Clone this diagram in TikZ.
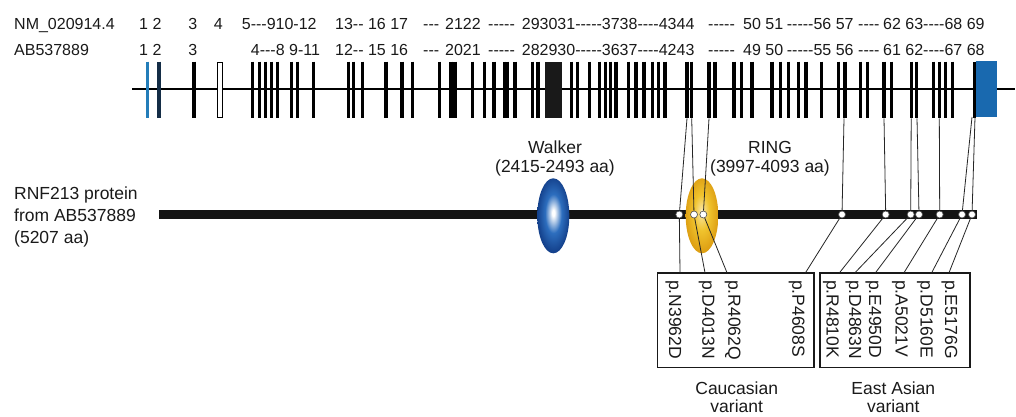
\documentclass[tikz,border=0pt]{standalone}
\usepackage{fontspec}
\setmainfont{Liberation Sans}
\newfontfamily\rawfont{Liberation Sans}
\definecolor{ink}{RGB}{26,26,26}
\definecolor{exblue}{RGB}{35,125,185}
\definecolor{exdark}{RGB}{20,45,70}
\definecolor{blockblue}{RGB}{25,105,175}
\definecolor{wb1}{RGB}{45,110,190}
\definecolor{wb2}{RGB}{20,65,140}
\definecolor{ry1}{RGB}{240,195,45}
\definecolor{ry2}{RGB}{222,160,20}
\pgfdeclareradialshading{walkerball}{\pgfpoint{0bp}{2bp}}{color(0bp)=(white); color(2bp)=(white); color(13bp)=(wb1); color(25bp)=(wb2); color(50bp)=(wb2)}
\pgfdeclareradialshading{ringball}{\pgfpoint{-1bp}{3bp}}{color(0bp)=(white); color(2bp)=(white!50!ry1); color(12bp)=(ry1); color(25bp)=(ry2); color(50bp)=(ry2)}
\begin{document}
\begin{tikzpicture}[x=1pt,y=-1pt,
  txt/.style={font=\rawfont\fontsize{16}{19}\selectfont, inner sep=0pt, text=ink},
  lbl/.style={font=\fontsize{17.5}{22}\selectfont, inner sep=0pt, text=ink},
  vlabel/.style={lbl, rotate=-90, anchor=west},
  exon/.style={line width=3.3pt, draw=black},
  conn/.style={draw=black!85, line width=0.8pt},
  dot/.style={circle, draw=black!70, fill=white, line width=0.6pt, inner sep=0pt, minimum size=7pt},
  varbox/.style={draw=black!90, line width=1.6pt, inner sep=0pt}]
\useasboundingbox (0,0) rectangle (1016,416);
\fill[white] (0,0) rectangle (1016,416);

% top labels, row 1
\node[txt, anchor=base west] (r1a) at (14,29.3) {NM\_020914.4};
\node[txt, anchor=base west] (r1b) at (139,29.3) {1 2};
\node[txt, anchor=base] (r1c) at (192.7,29.3) {3};
\node[txt, anchor=base] (r1d) at (218.3,29.3) {4};
\node[txt, anchor=base west] (r1e) at (241.7,29.3) {5---910-12};
\node[txt, anchor=base west] (r1f) at (335,29.3) {13-- 16 17};
\node[txt, anchor=base west] (r1g) at (423,29.3) {---};
\node[txt, anchor=base west] (r1h) at (445,29.3) {2122};
\node[txt, anchor=base west] (r1i) at (488,29.3) {-----};
\node[txt, anchor=base west] (r1j) at (521.7,29.3) {293031-----3738----4344};
\node[txt, anchor=base west] (r1k) at (708,29.3) {-----};
\node[txt, anchor=base west] (r1l) at (743,29.3) {50 51};
\node[txt, anchor=base west] (r1m) at (786.7,29.3) {-----56 57};
\node[txt, anchor=base west] (r1n) at (858,29.3) {----};
\node[txt, anchor=base west] (r1o) at (883,29.3) {62 63----68 69};
% row 2
\node[txt, anchor=base west] (r2a) at (14,55) {AB537889};
\node[txt, anchor=base west] (r2b) at (139,55) {1 2};
\node[txt, anchor=base] (r2c) at (192.7,55) {3};
\node[txt, anchor=base west] (r2e) at (250.7,55) {4---8 9-11};
\node[txt, anchor=base west] (r2f) at (335,55) {12-- 15 16};
\node[txt, anchor=base west] (r2g) at (423,55) {---};
\node[txt, anchor=base west] (r2h) at (445,55) {2021};
\node[txt, anchor=base west] (r2i) at (488,55) {-----};
\node[txt, anchor=base west] (r2j) at (521.7,55) {282930-----3637----4243};
\node[txt, anchor=base west] (r2k) at (708,55) {-----};
\node[txt, anchor=base west] (r2l) at (743,55) {49 50};
\node[txt, anchor=base west] (r2m) at (786.7,55) {-----55 56};
\node[txt, anchor=base west] (r2n) at (858,55) {----};
\node[txt, anchor=base west] (r2o) at (883,55) {61 62----67 68};

% gene
\draw[line width=2pt, black] (132,89.3) -- (1015,89.3);
\draw[exon, draw=exblue] (147.3,61.7) -- (147.3,118.3);
\draw[exon, draw=exdark] (159,61.7) -- (159,118.3);
\draw[black, line width=1pt, fill=white] (217.2,62.2) rectangle (222,117.8);
\foreach \x in {194,252.3,259.3,265.3,271.3,277.7,291.7,297.7,313.3,348.3,353.3,362.3,386,402,412.7,439.3,451,455,472.7,484.3,494,504.3,507.7,515,532.7,538,571.7,577.3,589.3,599.3,605.7,610.3,616,628.3,636,644,652.7,658.7,665,687,691.7,709,715,734,741.7,752,772,780.7,788.3,798.3,806,821.7,838.7,845,860.3,867.3,884,891.7,911.7,916.7,933.3,939.3,945.7,952.7,974.3}
  \draw[exon] (\x,61.7) -- (\x,118.3);
\fill[black!90] (545,61.7) rectangle (561.7,118.3);
\fill[blockblue] (976,60.5) rectangle (996.7,116.7);

% exon end points of connectors
\coordinate (x1) at (687,118.3);
\coordinate (x2) at (691.7,118.3);
\coordinate (x3) at (709,118.3);
\coordinate (x4) at (844,118.3);
\coordinate (x5) at (884,118.3);
\coordinate (x6) at (911.2,118.3);
\coordinate (x7) at (917,118.3);
\coordinate (x8) at (939.3,118.3);
\coordinate (x9) at (972,117);
\coordinate (x10) at (975,117);

% protein
\node[lbl, anchor=base west] (p1) at (14,199.3) {RNF213 protein};
\node[lbl, anchor=base west] (p2) at (14,221.5) {from AB537889};
\node[lbl, anchor=base west] (p3) at (14,243.5) {(5207 aa)};
\fill[black!92] (159.3,210) rectangle (976.7,219.3);
\shade[shading=walkerball] (553.3,215.8) ellipse [x radius=16pt, y radius=37.5pt];
\shade[shading=ringball] (702,215.8) ellipse [x radius=16.3pt, y radius=37.5pt];
\node[lbl, anchor=base] (wk1) at (555,153.3) {Walker};
\node[lbl, anchor=base] (wk2) at (555,172.7) {(2415-2493 aa)};
\node[lbl, anchor=base] (rg1) at (770,153.3) {RING};
\node[lbl, anchor=base] (rg2) at (770,172.7) {(3997-4093 aa)};

% dots
\node[dot] (d1) at (679.3,214.5) {};
\node[dot] (d2) at (694,214.5) {};
\node[dot] (d3) at (703.3,214.5) {};
\node[dot] (d4) at (842,214.5) {};
\node[dot] (d5) at (885.7,214.5) {};
\node[dot] (d6) at (910.7,214.5) {};
\node[dot] (d7) at (919,214.5) {};
\node[dot] (d8) at (939.7,214.5) {};
\node[dot] (d9) at (962,214.5) {};
\node[dot] (d10) at (972,214.5) {};

% boxes
\node[varbox, minimum width=156.7pt, minimum height=94.6pt] (box1) at (735.65,320) {};
\node[varbox, minimum width=150pt, minimum height=94.6pt] (box2) at (895,320) {};
\coordinate (b1) at (680,272.7);
\coordinate (b2) at (705,272.7);
\coordinate (b3) at (727,272.7);
\coordinate (b4) at (805.5,272.7);
\coordinate (b5) at (839.5,272.7);
\coordinate (b6) at (855,272.7);
\coordinate (b7) at (875.5,272.7);
\coordinate (b8) at (904,272.7);
\coordinate (b9) at (931.7,272.7);
\coordinate (b10) at (949,272.7);

\foreach \i in {1,...,10}
  \draw[conn] (x\i) -- (d\i) -- (b\i);

% variant labels
\node[vlabel] (v1) at (673.3,280) {p.N3962D};
\node[vlabel] (v2) at (706.7,280) {p.D4013N};
\node[vlabel] (v3) at (732.7,280) {p.R4062Q};
\node[vlabel] (v4) at (796.7,280) {p.P4608S};
\node[vlabel] (v5) at (831,280) {p.R4810K};
\node[vlabel] (v6) at (853.3,280) {p.D4863N};
\node[vlabel] (v7) at (873.3,280) {p.E4950D};
\node[vlabel] (v8) at (900,280) {p.A5021V};
\node[vlabel] (v9) at (925,280) {p.D5160E};
\node[vlabel] (v10) at (949.3,280) {p.E5176G};

\node[lbl, anchor=base] (cau1) at (736.7,394) {Caucasian};
\node[lbl, anchor=base] (cau2) at (736.7,412) {variant};
\node[lbl, anchor=base] (eas1) at (893.3,394) {East Asian};
\node[lbl, anchor=base] (eas2) at (893.3,412) {variant};
\end{tikzpicture}
\end{document}
